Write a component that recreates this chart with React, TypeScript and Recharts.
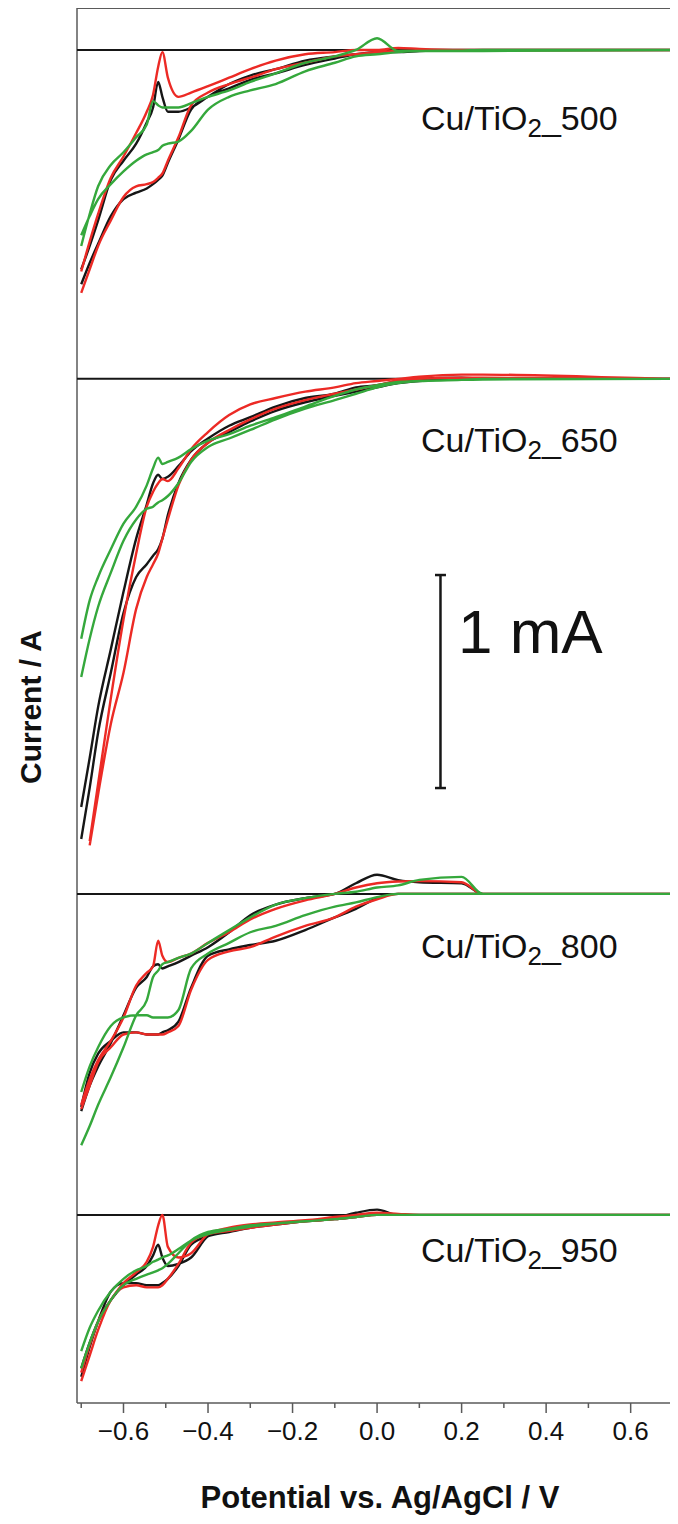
import { LineChart, Line, XAxis, YAxis, ReferenceLine } from 'recharts';

// potential grid (V vs. Ag/AgCl) shared by every branch
const potential = [-0.70, -0.68, -0.66, -0.63, -0.60, -0.57, -0.545, -0.53, -0.518, -0.508, -0.495, -0.47, -0.44, -0.40, -0.35, -0.30, -0.24, -0.17, -0.10, -0.05, 0.0, 0.05, 0.10, 0.2, 0.25, 0.7];

const xTicks = [-0.7, -0.6, -0.5, -0.4, -0.3, -0.2, -0.1, 0.0, 0.1, 0.2, 0.3, 0.4, 0.5, 0.6, 0.7];

const samples = ['500', '650', '800', '950'];
// zero line of each stacked voltammogram (mA on the stacked axis) and where it stops
const offsets = [6.352, 4.808, 2.39, 0.883];
const zeroEnds = [0.7, 0.7, 0.677, 0.7];

// current in mA, relative to each zero line; "Up" = branch with the spike, "Dn" = return branch
const bk500Up = [-1.03, -0.92, -0.80, -0.61, -0.52, -0.44, -0.34, -0.27, -0.15, -0.22, -0.29, -0.29, -0.27, -0.22, -0.16, -0.12, -0.09, -0.05, -0.03, -0.02, -0.01, 0, 0, 0, 0, 0];
const bk500Dn = [-1.10, -1.00, -0.91, -0.78, -0.70, -0.67, -0.65, -0.63, -0.61, -0.59, -0.53, -0.42, -0.28, -0.22, -0.18, -0.14, -0.11, -0.07, -0.04, -0.02, -0.01, -0.01, -0.005, 0, 0, 0];
const rd500Up = [-1.04, -0.90, -0.77, -0.60, -0.50, -0.39, -0.29, -0.21, -0.08, -0.01, -0.13, -0.22, -0.20, -0.17, -0.13, -0.09, -0.05, -0.02, -0.01, 0.0, 0.0, 0.01, 0.005, 0, 0, 0];
const rd500Dn = [-1.14, -1.03, -0.92, -0.80, -0.69, -0.64, -0.63, -0.62, -0.60, -0.58, -0.52, -0.41, -0.26, -0.20, -0.16, -0.13, -0.09, -0.06, -0.03, -0.02, -0.01, -0.005, -0.003, -0.003, -0.002, 0];
const gn500Up = [-0.92, -0.77, -0.64, -0.54, -0.48, -0.41, -0.35, -0.24, -0.26, -0.27, -0.27, -0.27, -0.25, -0.22, -0.19, -0.15, -0.11, -0.06, -0.03, 0.0, 0.055, -0.005, -0.005, -0.005, -0.005, 0];
const gn500Dn = [-0.87, -0.78, -0.70, -0.63, -0.57, -0.52, -0.49, -0.48, -0.47, -0.45, -0.44, -0.43, -0.38, -0.28, -0.22, -0.19, -0.16, -0.10, -0.06, -0.03, -0.02, -0.01, -0.005, -0.003, 0, 0];

const bk650Up = [-2.01, -1.78, -1.54, -1.27, -1.00, -0.75, -0.59, -0.49, -0.45, -0.47, -0.46, -0.41, -0.34, -0.28, -0.22, -0.18, -0.13, -0.09, -0.07, -0.04, -0.03, -0.01, 0.0, 0.005, 0.0, 0.0];
const bk650Dn = [-2.16, -1.92, -1.66, -1.38, -1.10, -0.93, -0.87, -0.83, -0.80, -0.75, -0.64, -0.49, -0.38, -0.30, -0.25, -0.20, -0.15, -0.11, -0.08, -0.06, -0.04, -0.02, -0.01, 0, 0, 0];
const rd650Up = [null, -2.17, -1.90, -1.50, -1.13, -0.82, -0.60, -0.53, -0.49, -0.47, -0.48, -0.42, -0.33, -0.25, -0.17, -0.12, -0.09, -0.06, -0.04, -0.02, -0.01, 0.0, 0.01, 0.02, 0.02, 0.0];
const rd650Dn = [null, -2.19, -1.95, -1.62, -1.38, -1.08, -0.93, -0.87, -0.82, -0.75, -0.66, -0.50, -0.38, -0.30, -0.24, -0.19, -0.14, -0.10, -0.07, -0.05, -0.03, -0.01, 0.0, 0.005, 0.005, 0];
const gn650Up = [-1.22, -1.04, -0.93, -0.80, -0.68, -0.60, -0.50, -0.42, -0.37, -0.40, -0.39, -0.37, -0.33, -0.29, -0.26, -0.22, -0.18, -0.13, -0.08, -0.05, -0.03, -0.015, -0.01, -0.005, 0, 0];
const gn650Dn = [-1.40, -1.22, -1.07, -0.91, -0.76, -0.66, -0.61, -0.60, -0.58, -0.57, -0.55, -0.49, -0.39, -0.32, -0.28, -0.24, -0.19, -0.14, -0.10, -0.07, -0.04, -0.02, -0.01, -0.005, -0.003, 0];

const bk800Up = [-1.02, -0.90, -0.81, -0.70, -0.57, -0.44, -0.39, -0.34, -0.33, -0.35, -0.34, -0.32, -0.29, -0.25, -0.18, -0.10, -0.05, -0.02, 0.0, 0.05, 0.09, 0.065, 0.055, 0.05, 0, 0];
const bk800Dn = [-1.00, -0.84, -0.75, -0.69, -0.65, -0.65, -0.66, -0.66, -0.66, -0.65, -0.64, -0.60, -0.44, -0.29, -0.26, -0.24, -0.22, -0.17, -0.11, -0.07, -0.02, 0, 0, 0, 0, 0];
const rd800Up = [-0.99, -0.87, -0.78, -0.69, -0.58, -0.43, -0.37, -0.34, -0.22, -0.29, -0.32, -0.30, -0.28, -0.23, -0.18, -0.12, -0.07, -0.03, 0.0, 0.03, 0.05, 0.058, 0.06, 0.055, 0, 0];
const rd800Dn = [-1.01, -0.90, -0.79, -0.72, -0.66, -0.65, -0.66, -0.66, -0.66, -0.66, -0.65, -0.62, -0.45, -0.31, -0.27, -0.25, -0.20, -0.15, -0.11, -0.06, -0.025, 0, 0, 0, 0, 0];
const gn800Up = [-1.18, -1.09, -0.99, -0.86, -0.72, -0.57, -0.50, -0.39, -0.36, -0.33, -0.32, -0.30, -0.28, -0.23, -0.17, -0.11, -0.05, -0.02, 0.0, 0.01, 0.03, 0.04, 0.066, 0.08, 0, 0];
const gn800Dn = [-0.93, -0.81, -0.72, -0.62, -0.58, -0.57, -0.57, -0.58, -0.58, -0.58, -0.58, -0.545, -0.35, -0.28, -0.23, -0.18, -0.15, -0.10, -0.06, -0.04, -0.015, 0, 0, 0, 0, 0];

const bk950Up = [-0.72, -0.60, -0.50, -0.40, -0.33, -0.28, -0.24, -0.19, -0.14, -0.20, -0.24, -0.23, -0.20, -0.10, -0.07, -0.05, -0.04, -0.03, -0.015, 0.01, 0.025, 0, 0, 0, 0, 0];
const bk950Dn = [-0.76, -0.62, -0.50, -0.36, -0.32, -0.32, -0.33, -0.33, -0.33, -0.32, -0.30, -0.24, -0.14, -0.10, -0.08, -0.06, -0.045, -0.03, -0.02, -0.01, 0, 0, 0, 0, 0, 0];
const rd950Up = [-0.74, -0.61, -0.50, -0.40, -0.32, -0.27, -0.22, -0.15, -0.05, 0.0, -0.15, -0.20, -0.18, -0.09, -0.06, -0.045, -0.035, -0.025, -0.01, 0, 0.01, 0.005, 0, 0, 0, 0];
const rd950Dn = [-0.78, -0.66, -0.54, -0.40, -0.34, -0.33, -0.34, -0.34, -0.34, -0.33, -0.30, -0.23, -0.13, -0.09, -0.075, -0.06, -0.045, -0.03, -0.02, -0.01, 0, 0, 0, 0, 0, 0];
const gn950Up = [-0.64, -0.53, -0.45, -0.36, -0.30, -0.26, -0.24, -0.22, -0.21, -0.20, -0.19, -0.16, -0.12, -0.09, -0.07, -0.055, -0.04, -0.03, -0.02, -0.01, 0, 0, 0, 0, 0, 0];
const gn950Dn = [-0.72, -0.60, -0.50, -0.40, -0.33, -0.30, -0.28, -0.27, -0.26, -0.25, -0.23, -0.18, -0.12, -0.08, -0.065, -0.05, -0.04, -0.03, -0.02, -0.01, 0, 0, 0, 0, 0, 0];

const BLACK = '#161616';
const RED = '#ec2a25';
const GREEN = '#35a83c';
const AXIS = '#5a5a5a';

const X_MIN = -0.71;
const X_MAX = 0.712;
const Y_MAX = 6.549;

// 1 mA scale bar
const barX = 0.15;
const barTop = 3.887;

type Pt = { x: number; y: number };

const branch = (off: number, cur: (number | null)[]): Pt[] =>
  cur
    .map((c, i) => (c === null ? null : { x: potential[i], y: off + c }))
    .filter((p): p is Pt => p !== null);

const loop = (off: number, up: (number | null)[], dn: (number | null)[]) =>
  [...branch(off, up), ...branch(off, dn).reverse()];

const curves = [
  { s: 0, color: BLACK, up: bk500Up, dn: bk500Dn },
  { s: 0, color: RED, up: rd500Up, dn: rd500Dn },
  { s: 0, color: GREEN, up: gn500Up, dn: gn500Dn },
  { s: 1, color: BLACK, up: bk650Up, dn: bk650Dn },
  { s: 1, color: RED, up: rd650Up, dn: rd650Dn },
  { s: 1, color: GREEN, up: gn650Up, dn: gn650Dn },
  { s: 2, color: BLACK, up: bk800Up, dn: bk800Dn },
  { s: 2, color: RED, up: rd800Up, dn: rd800Dn },
  { s: 2, color: GREEN, up: gn800Up, dn: gn800Dn },
  { s: 3, color: BLACK, up: bk950Up, dn: bk950Dn },
  { s: 3, color: RED, up: rd950Up, dn: rd950Dn },
  { s: 3, color: GREEN, up: gn950Up, dn: gn950Dn },
];

const labelY = [130, 452, 958, 1262];

const fmt = (v: number) => (v < -0.001 ? '\u2212' + Math.abs(v).toFixed(1) : Math.abs(v).toFixed(1));

const XTick = (props: any) => {
  const { x, y, payload } = props;
  const v = payload.value as number;
  const major = Math.round(Math.abs(v) * 10) % 2 === 0;
  return (
    <g>
      <line x1={x} x2={x} y1={y} y2={y + (major ? 10 : 5)} stroke={AXIS} strokeWidth={1.5} />
      {major && (
        <text x={x} y={y + 37} textAnchor="middle" fontSize={26} fontFamily="'Liberation Sans', Arial, sans-serif" fill="#111">
          {fmt(v)}
        </text>
      )}
    </g>
  );
};

export default function App() {
  const font = "'Liberation Sans', Arial, sans-serif";
  return (
    <div style={{ position: 'relative', width: 678, height: 1524, margin: -8, background: '#fff' }}>
      <LineChart width={678} height={1524} margin={{ top: 8, right: 0, bottom: 0, left: 77 }}>
        <XAxis
          type="number"
          dataKey="x"
          domain={[X_MIN, X_MAX]}
          allowDataOverflow
          ticks={xTicks}
          interval={0}
          height={121}
          tickSize={0}
          tickMargin={0}
          tickLine={false}
          tick={<XTick />}
          axisLine={{ stroke: AXIS, strokeWidth: 1.5 }}
        />
        <YAxis type="number" domain={[0, Y_MAX]} allowDataOverflow hide />
        <ReferenceLine y={Y_MAX} stroke={AXIS} strokeWidth={2} />
        <ReferenceLine x={X_MIN} stroke={AXIS} strokeWidth={1.5} />
        {offsets.map((off, i) => (
          <ReferenceLine
            key={'zero' + i}
            segment={[{ x: X_MIN, y: off }, { x: zeroEnds[i], y: off }]}
            stroke={BLACK}
            strokeWidth={2}
          />
        ))}
        <ReferenceLine segment={[{ x: barX, y: barTop }, { x: barX, y: barTop - 1 }]} stroke={BLACK} strokeWidth={2.5} />
        <ReferenceLine segment={[{ x: barX - 0.013, y: barTop }, { x: barX + 0.013, y: barTop }]} stroke={BLACK} strokeWidth={2.5} />
        <ReferenceLine segment={[{ x: barX - 0.013, y: barTop - 1 }, { x: barX + 0.013, y: barTop - 1 }]} stroke={BLACK} strokeWidth={2.5} />
        {curves.map((c, i) => (
          <Line
            key={'cv' + i}
            data={loop(offsets[c.s], c.up, c.dn)}
            dataKey="y"
            type="monotone"
            stroke={c.color}
            strokeWidth={2.4}
            dot={false}
            activeDot={false}
            isAnimationActive={false}
          />
        ))}
      </LineChart>
      <svg width={678} height={1524} style={{ position: 'absolute', left: 0, top: 0, pointerEvents: 'none' }}>
        {samples.map((s, i) => (
          <text key={s} x={421} y={labelY[i]} fontSize={34} fontFamily={font} fill="#111">
            Cu/TiO
            <tspan fontSize={26} dy={7}>2</tspan>
            <tspan fontSize={34} dy={-7}>_{s}</tspan>
          </text>
        ))}
        <text x={458} y={653} fontSize={62} fontFamily={font} fill="#111">1 mA</text>
        <text
          transform="translate(41, 707) rotate(-90)"
          textAnchor="middle"
          fontSize={30}
          fontWeight="bold"
          fontFamily={font}
          fill="#111"
        >
          Current / A
        </text>
        <text x={380} y={1508} textAnchor="middle" fontSize={31} fontWeight="bold" fontFamily={font} fill="#111">
          Potential vs. Ag/AgCl / V
        </text>
      </svg>
    </div>
  );
}
